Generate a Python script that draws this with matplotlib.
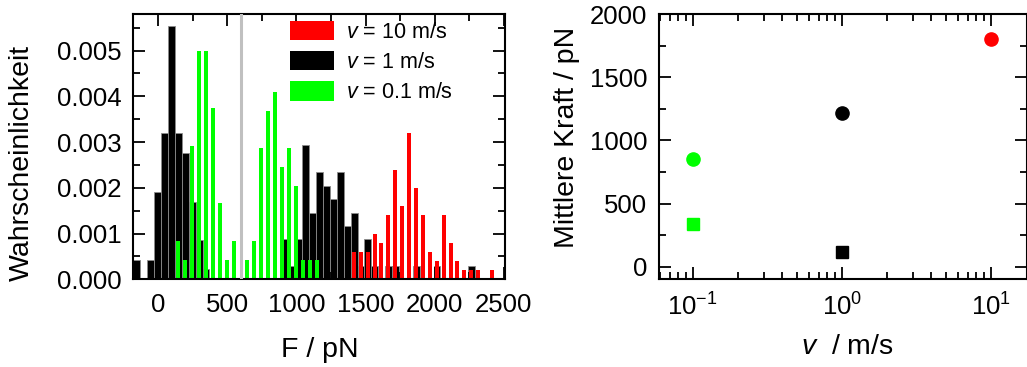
import matplotlib
matplotlib.use("Agg")
import matplotlib.pyplot as plt
from matplotlib.ticker import MultipleLocator, FormatStrFormatter, LogLocator, LogFormatterSciNotation, NullFormatter
from matplotlib.patches import Patch

plt.rcParams['font.family'] = ['Liberation Sans', 'DejaVu Sans']
plt.rcParams['mathtext.fontset'] = 'custom'
plt.rcParams['mathtext.rm'] = 'Liberation Sans'
plt.rcParams['mathtext.it'] = 'Liberation Sans:italic'
plt.rcParams['axes.unicode_minus'] = False

# ---------------- data ----------------
# v = 1 m/s (black), two populations
black_low_F = [-155, -55, -5, 45, 95, 145, 195, 245, 295, 345]
black_low_p = [0.00042, 0.00042, 0.00191, 0.00319, 0.00554, 0.00319, 0.00276, 0.00169, 0.00086, 0.00022]
black_high_F = [917, 967, 1017, 1067, 1117, 1167, 1217, 1267, 1317, 1367, 1417, 1467, 1517,
                1567, 1667, 1717, 1867, 2017, 2267]
black_high_p = [0.00088, 0.00029, 0.00088, 0.00293, 0.00146, 0.00234, 0.00205, 0.00176, 0.00234,
                0.00117, 0.00146, 0.00029, 0.00088, 0.00029, 0.00029, 0.00029, 0.00029, 0.00029, 0.00029]

# v = 0.1 m/s (green)
green_F = [145, 195, 245, 295, 345, 395, 445, 495, 545, 645, 695, 745, 795, 845, 895, 945, 995,
           1045, 1095, 1145]
green_p = [0.00083, 0.00042, 0.00292, 0.00500, 0.00500, 0.00375, 0.00167, 0.00042, 0.00083,
           0.00042, 0.00083, 0.00287, 0.00368, 0.00410, 0.00246, 0.00287, 0.00204,
           0.00042, 0.00042, 0.00042]

# v = 10 m/s (red)
red_F = [1415, 1465, 1515, 1565, 1615, 1665, 1715, 1765, 1815, 1865, 1915, 1965, 2015, 2065,
         2115, 2165, 2215, 2265, 2315, 2415]
red_p = [0.0006, 0.0006, 0.0006, 0.0010, 0.0008, 0.0014, 0.0024, 0.0016, 0.0032, 0.0020,
         0.0014, 0.0006, 0.0004, 0.0014, 0.0008, 0.0004, 0.0002, 0.0002, 0.0002, 0.0002]

bin_width = 50
divider_F = 600

legend_labels = [r'$v$ = 10 m/s', r'$v$ = 1 m/s', r'$v$ = 0.1 m/s']

# right panel: mean forces
v_circle = [0.1, 1, 10]
F_circle = [855, 1220, 1805]
v_square = [0.1, 1]
F_square = [337, 114]

RED = '#ff0000'
BLACK = '#000000'
GREEN = '#00ff00'

# ---------------- figure ----------------
W, H = 1027, 367
fig = plt.figure(figsize=(W / 100, H / 100), dpi=100)

top_px, bot_px = 14, 279.3
ax1 = fig.add_axes([133 / W, 1 - bot_px / H, (505 - 133) / W, (bot_px - top_px) / H])
ax2 = fig.add_axes([659.3 / W, 1 - bot_px / H, (1026.5 - 659.3) / W, (bot_px - top_px) / H])

tick_fs = 18.5
label_fs = 20.5
legend_fs = 15.5

# ---- left histogram ----
ax1.bar(black_low_F, black_low_p, width=bin_width, color=BLACK, edgecolor='0.55', linewidth=0.6, zorder=1)
ax1.bar(black_high_F, black_high_p, width=bin_width, color=BLACK, edgecolor='0.55', linewidth=0.6, zorder=1)
ax1.bar(green_F, green_p, width=bin_width * 0.58, color=GREEN, linewidth=0, zorder=2)
ax1.bar(red_F, red_p, width=bin_width * 0.58, color=RED, linewidth=0, zorder=2)
ax1.axvline(divider_F, color='#c0c0c0', linewidth=2.2, zorder=3)

ax1.set_xlim(-183, 2509)
ax1.set_ylim(0, 0.0058)
ax1.xaxis.set_major_locator(MultipleLocator(500))
ax1.xaxis.set_minor_locator(MultipleLocator(250))
ax1.yaxis.set_major_locator(MultipleLocator(0.001))
ax1.yaxis.set_minor_locator(MultipleLocator(0.0005))
ax1.yaxis.set_major_formatter(FormatStrFormatter('%.3f'))

handles = [Patch(facecolor=RED), Patch(facecolor=BLACK), Patch(facecolor=GREEN)]
leg = ax1.legend(handles, legend_labels, loc='upper left', bbox_to_anchor=((290 - 133) / 372, 1 - 7 / 265.3),
                 frameon=False, fontsize=legend_fs, handlelength=2.05, handleheight=1.0,
                 handletextpad=0.55, labelspacing=0.38, borderpad=0, borderaxespad=0)

ax1.set_xlabel('F / pN', fontsize=label_fs, va='center')
ax1.xaxis.set_label_coords(0.503, -0.266)
ax1.set_ylabel('Wahrscheinlichkeit', fontsize=label_fs, va='center', ha='center')
ax1.yaxis.set_label_coords(-0.298, 0.44)

# ---- right scatter ----
ax2.plot(v_circle[0], F_circle[0], 'o', color=GREEN, markersize=9.5, zorder=3)
ax2.plot(v_circle[1], F_circle[1], 'o', color=BLACK, markersize=9.5, zorder=3)
ax2.plot(v_circle[2], F_circle[2], 'o', color=RED, markersize=9.5, zorder=3)
ax2.plot(v_square[0], F_square[0], 's', color=GREEN, markersize=9, zorder=3)
ax2.plot(v_square[1], F_square[1], 's', color=BLACK, markersize=9, zorder=3)

ax2.set_xscale('log')
ax2.set_xlim(0.0597, 17.4)
ax2.set_ylim(-100, 2000)
ax2.xaxis.set_major_locator(LogLocator(base=10, numticks=10))
ax2.xaxis.set_minor_locator(LogLocator(base=10, subs=tuple(range(2, 10)), numticks=20))
ax2.xaxis.set_major_formatter(LogFormatterSciNotation())
ax2.xaxis.set_minor_formatter(NullFormatter())
ax2.yaxis.set_major_locator(MultipleLocator(500))
ax2.yaxis.set_minor_locator(MultipleLocator(250))

ax2.set_xlabel(r'$v$  / m/s', fontsize=label_fs, va='center')
ax2.xaxis.set_label_coords(0.511, -0.255)
ax2.set_ylabel('Mittlere Kraft / pN', fontsize=label_fs, va='center', ha='center')
ax2.yaxis.set_label_coords(-0.251, 0.534)

for ax in (ax1, ax2):
    for s in ax.spines.values():
        s.set_linewidth(1.5)
    ax.tick_params(which='both', direction='in', top=True, right=True, width=1.3, labelsize=tick_fs)
    ax.tick_params(which='major', length=8.5)
    ax.tick_params(which='minor', length=5)
    ax.tick_params(axis='x', which='both', pad=10)
    ax.tick_params(axis='y', which='both', pad=8.5)

fig.savefig('out.png', dpi=100)
